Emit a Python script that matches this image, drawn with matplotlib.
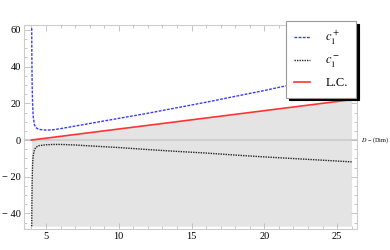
import numpy as np
from matplotlib import pyplot as plt
from matplotlib.ticker import MultipleLocator, FixedLocator

plt.rcParams['font.family'] = ['Liberation Serif', 'DejaVu Serif']
plt.rcParams['mathtext.fontset'] = 'stix'

# c1+ (blue, dashed)
d_plus = [4.02, 4.03, 4.05, 4.08, 4.12, 4.2, 4.3, 4.5, 5.0, 5.5, 6, 7, 8, 10,
          12, 14, 16, 18, 20, 22, 24, 26]
c_plus = [61, 45, 30, 20, 13, 8.5, 6.8, 5.8, 5.4, 5.6, 6.2, 7.6, 9.0, 11.8,
          14.6, 17.6, 20.6, 23.8, 27, 30.4, 34, 37.5]
# c1- (black, dotted)
d_minus = [4.02, 4.03, 4.05, 4.08, 4.12, 4.2, 4.3, 4.5, 5.0, 5.5, 6, 7, 8, 10,
           12, 14, 16, 18, 20, 22, 24, 26]
c_minus = [-47, -35, -22, -13, -8.5, -5.5, -4.0, -3.1, -2.6, -2.4, -2.4, -2.7,
           -3.2, -4.1, -5.2, -6.2, -7.1, -8.2, -9.2, -10.1, -11.0, -11.9]
# L.C.
d_lc = [4, 26]
lc = [0, 22]
fill_bottom = -47

fig = plt.figure(figsize=(3.9, 2.5), dpi=100)
ax = fig.add_axes([24/390, 1-229/250, 333/390, 204/250])

ax.fill_between(d_lc, lc, fill_bottom, color='#e4e4e4', lw=0, zorder=1)
ax.axhline(0, color='#d0d0d0', lw=1.5, zorder=1.5)
ax.plot(d_plus, c_plus, color='#3a3aff', ls=(0, (2, 1)), lw=1.0, label=r'$c_1^+$', zorder=3)
ax.plot(d_minus, c_minus, color='#222222', ls=(0, (1, 0.8)), lw=1.0, label=r'$c_1^-$', zorder=3)
ax.plot(d_lc, lc, color='#ff3333', lw=1.2, label='L.C.', zorder=3)

ax.set_xlim(3.49, 26.37)
ax.set_ylim(-48.5, 62.7)
ax.xaxis.set_major_locator(FixedLocator([5, 10, 15, 20, 25]))
ax.xaxis.set_minor_locator(MultipleLocator(1))
ax.yaxis.set_major_locator(FixedLocator([-40, -20, 0, 20, 40, 60]))
ax.yaxis.set_minor_locator(MultipleLocator(5))
ax.set_yticklabels(['\u2212 40', '\u2212 20', '0', '20', '40', '60'])
ax.tick_params(which='both', direction='in', top=True, right=True, color='#bbbbbb',
               labelsize=7.5, pad=2, width=0.6)
ax.tick_params(which='major', length=4)
ax.tick_params(which='minor', length=2)
for s in ax.spines.values():
    s.set_color('#cccccc')
    s.set_linewidth(0.8)

fig.text(361/390, 1-140/250, '$D$ \u2212 (Dim)', fontsize=4.5, va='center', ha='left')

leg = ax.legend(loc='upper right', bbox_to_anchor=(356/390, 1-21/250),
                bbox_transform=fig.transFigure, borderaxespad=0, fancybox=False,
                shadow={'color': 'black', 'alpha': 1}, framealpha=1,
                edgecolor='#999999', fontsize=9, labelspacing=0.6,
                handlelength=1.3, handletextpad=1.2, borderpad=0.65)
leg.get_frame().set_linewidth(0.8)

fig.savefig('out.png', dpi=100)
